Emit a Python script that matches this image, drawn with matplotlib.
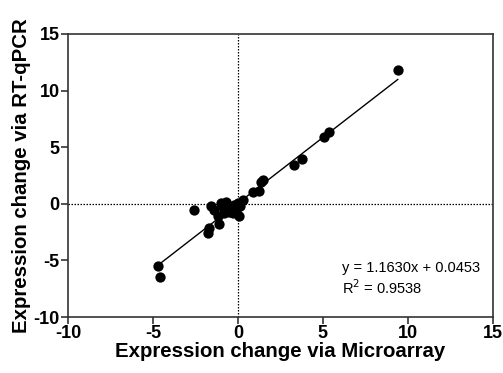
import numpy as np
import matplotlib
matplotlib.use("Agg")
import matplotlib.pyplot as plt

plt.rcParams['font.family'] = ['Liberation Sans', 'DejaVu Sans']
plt.rcParams['axes.unicode_minus'] = False

# fold changes
microarray = [9.4, 5.35, 5.05, 3.76, 3.3, 1.45, 1.35, 1.25, 0.86,
              -2.56, -4.71, -4.56, -1.78, -1.68, -1.1, -1.58, -1.19, 0.08,
              -1.0, -0.7, -0.41, -0.22, -0.02, 0.28, -0.51, -0.8, -0.31,
              -0.12, -0.6, -1.39, 0.1, -0.9]
rtqpcr = [11.8, 6.35, 5.9, 3.97, 3.44, 2.1, 1.9, 1.09, 1.0,
          -0.53, -5.47, -6.5, -2.59, -2.15, -1.77, -0.23, -1.12, -1.06,
          0.06, 0.2, -0.38, -0.09, 0.06, 0.35, -0.68, -0.82, -0.82,
          -0.53, -0.24, -0.53, -0.2, -0.3]
slope = 1.1630
intercept = 0.0453
r2 = 0.9538

fig = plt.figure(figsize=(5.03, 3.73), dpi=100)
ax = fig.add_axes([0.135, 0.150, 0.845, 0.759])

ax.axhline(0, color='black', lw=0.9, ls=(0, (1.2, 1.2)), zorder=1)
ax.axvline(0, color='black', lw=0.9, ls=(0, (1.2, 1.2)), zorder=1)

xs = np.array([min(microarray), max(microarray)])
ax.plot(xs, slope * xs + intercept, color='black', lw=1.0, zorder=2)
ax.scatter(microarray, rtqpcr, s=55, color='black', zorder=3, linewidths=0)

ax.set_xlim(-10, 15)
ax.set_ylim(-10, 15)
ax.set_xticks([-10, -5, 0, 5, 10, 15])
ax.set_yticks([-10, -5, 0, 5, 10, 15])
for lab in ax.get_xticklabels() + ax.get_yticklabels():
    lab.set_fontweight('bold')
ax.tick_params(direction='out', length=5, width=1.2, labelsize=13, pad=1,
               color='#333333')
for sp in ax.spines.values():
    sp.set_linewidth(1.2)
    sp.set_color('#333333')

ax.set_xlabel('Expression change via Microarray', fontsize=14.7, fontweight='bold', labelpad=0)
ax.set_ylabel('Expression change via RT-qPCR', fontsize=14.7, fontweight='bold', labelpad=2)

ax.text(0.645, 0.135, 'y = %.4fx + %.4f\nR$^2$ = %.4f' % (slope, intercept, r2),
        transform=ax.transAxes, fontsize=10.5, va='center', ha='left',
        linespacing=1.25)

fig.savefig('out.png', dpi=100)
